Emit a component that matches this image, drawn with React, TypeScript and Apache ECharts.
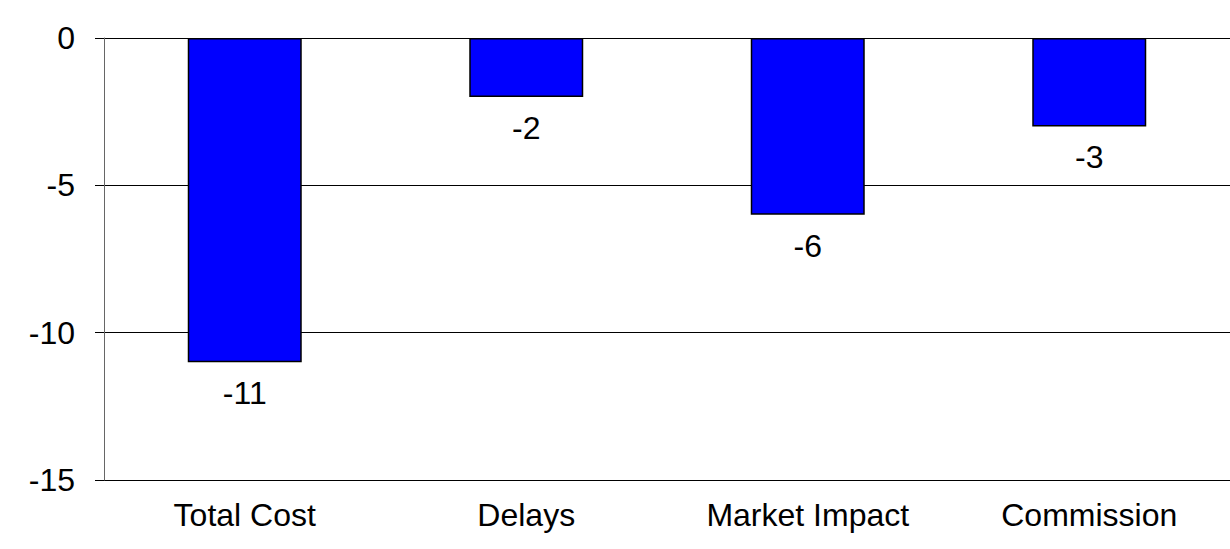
import React, { useEffect, useRef } from "react";
import * as echarts from "echarts";

const categories = ["Total Cost", "Delays", "Market Impact", "Commission"];
const values = [-11, -2, -6, -3];
const yMin = -15;
const yMax = 0;
const yInterval = 5;

export default function App() {
  const ref = useRef<HTMLDivElement>(null);
  useEffect(() => {
    if (!ref.current) return;
    const chart = echarts.init(ref.current, null, { renderer: "svg" });
    const font = "'Liberation Sans', Arial, sans-serif";
    chart.setOption({
      animation: false,
      backgroundColor: "#ffffff",
      grid: { left: 104, right: 0, top: 38, bottom: 69, containLabel: false },
      xAxis: {
        type: "category",
        data: categories,
        position: "bottom",
        axisLine: { show: false },
        axisTick: { show: false },
        axisLabel: { color: "#000", fontSize: 32, fontFamily: font, margin: 19 },
        splitLine: { show: false },
      },
      yAxis: {
        type: "value",
        min: yMin,
        max: yMax,
        interval: yInterval,
        axisLine: { show: true, lineStyle: { color: "#666", width: 1 } },
        axisTick: { show: true, length: 9, lineStyle: { color: "#000", width: 1 } },
        axisLabel: { color: "#000", fontSize: 32, fontFamily: font, margin: 29 },
        splitLine: { show: true, lineStyle: { color: "#000", width: 1 } },
      },
      series: [
        {
          type: "bar",
          data: values,
          barWidth: "40.5%",
          itemStyle: { color: "#0000ff", borderColor: "#000", borderWidth: 1.5 },
          label: {
            show: true,
            position: "bottom",
            distance: 15,
            color: "#000",
            fontSize: 32,
            fontFamily: font,
          },
        },
      ],
    });
    return () => chart.dispose();
  }, []);
  return (
    <div
      ref={ref}
      style={{ position: "fixed", left: 0, top: 0, width: 1230, height: 549 }}
    />
  );
}
